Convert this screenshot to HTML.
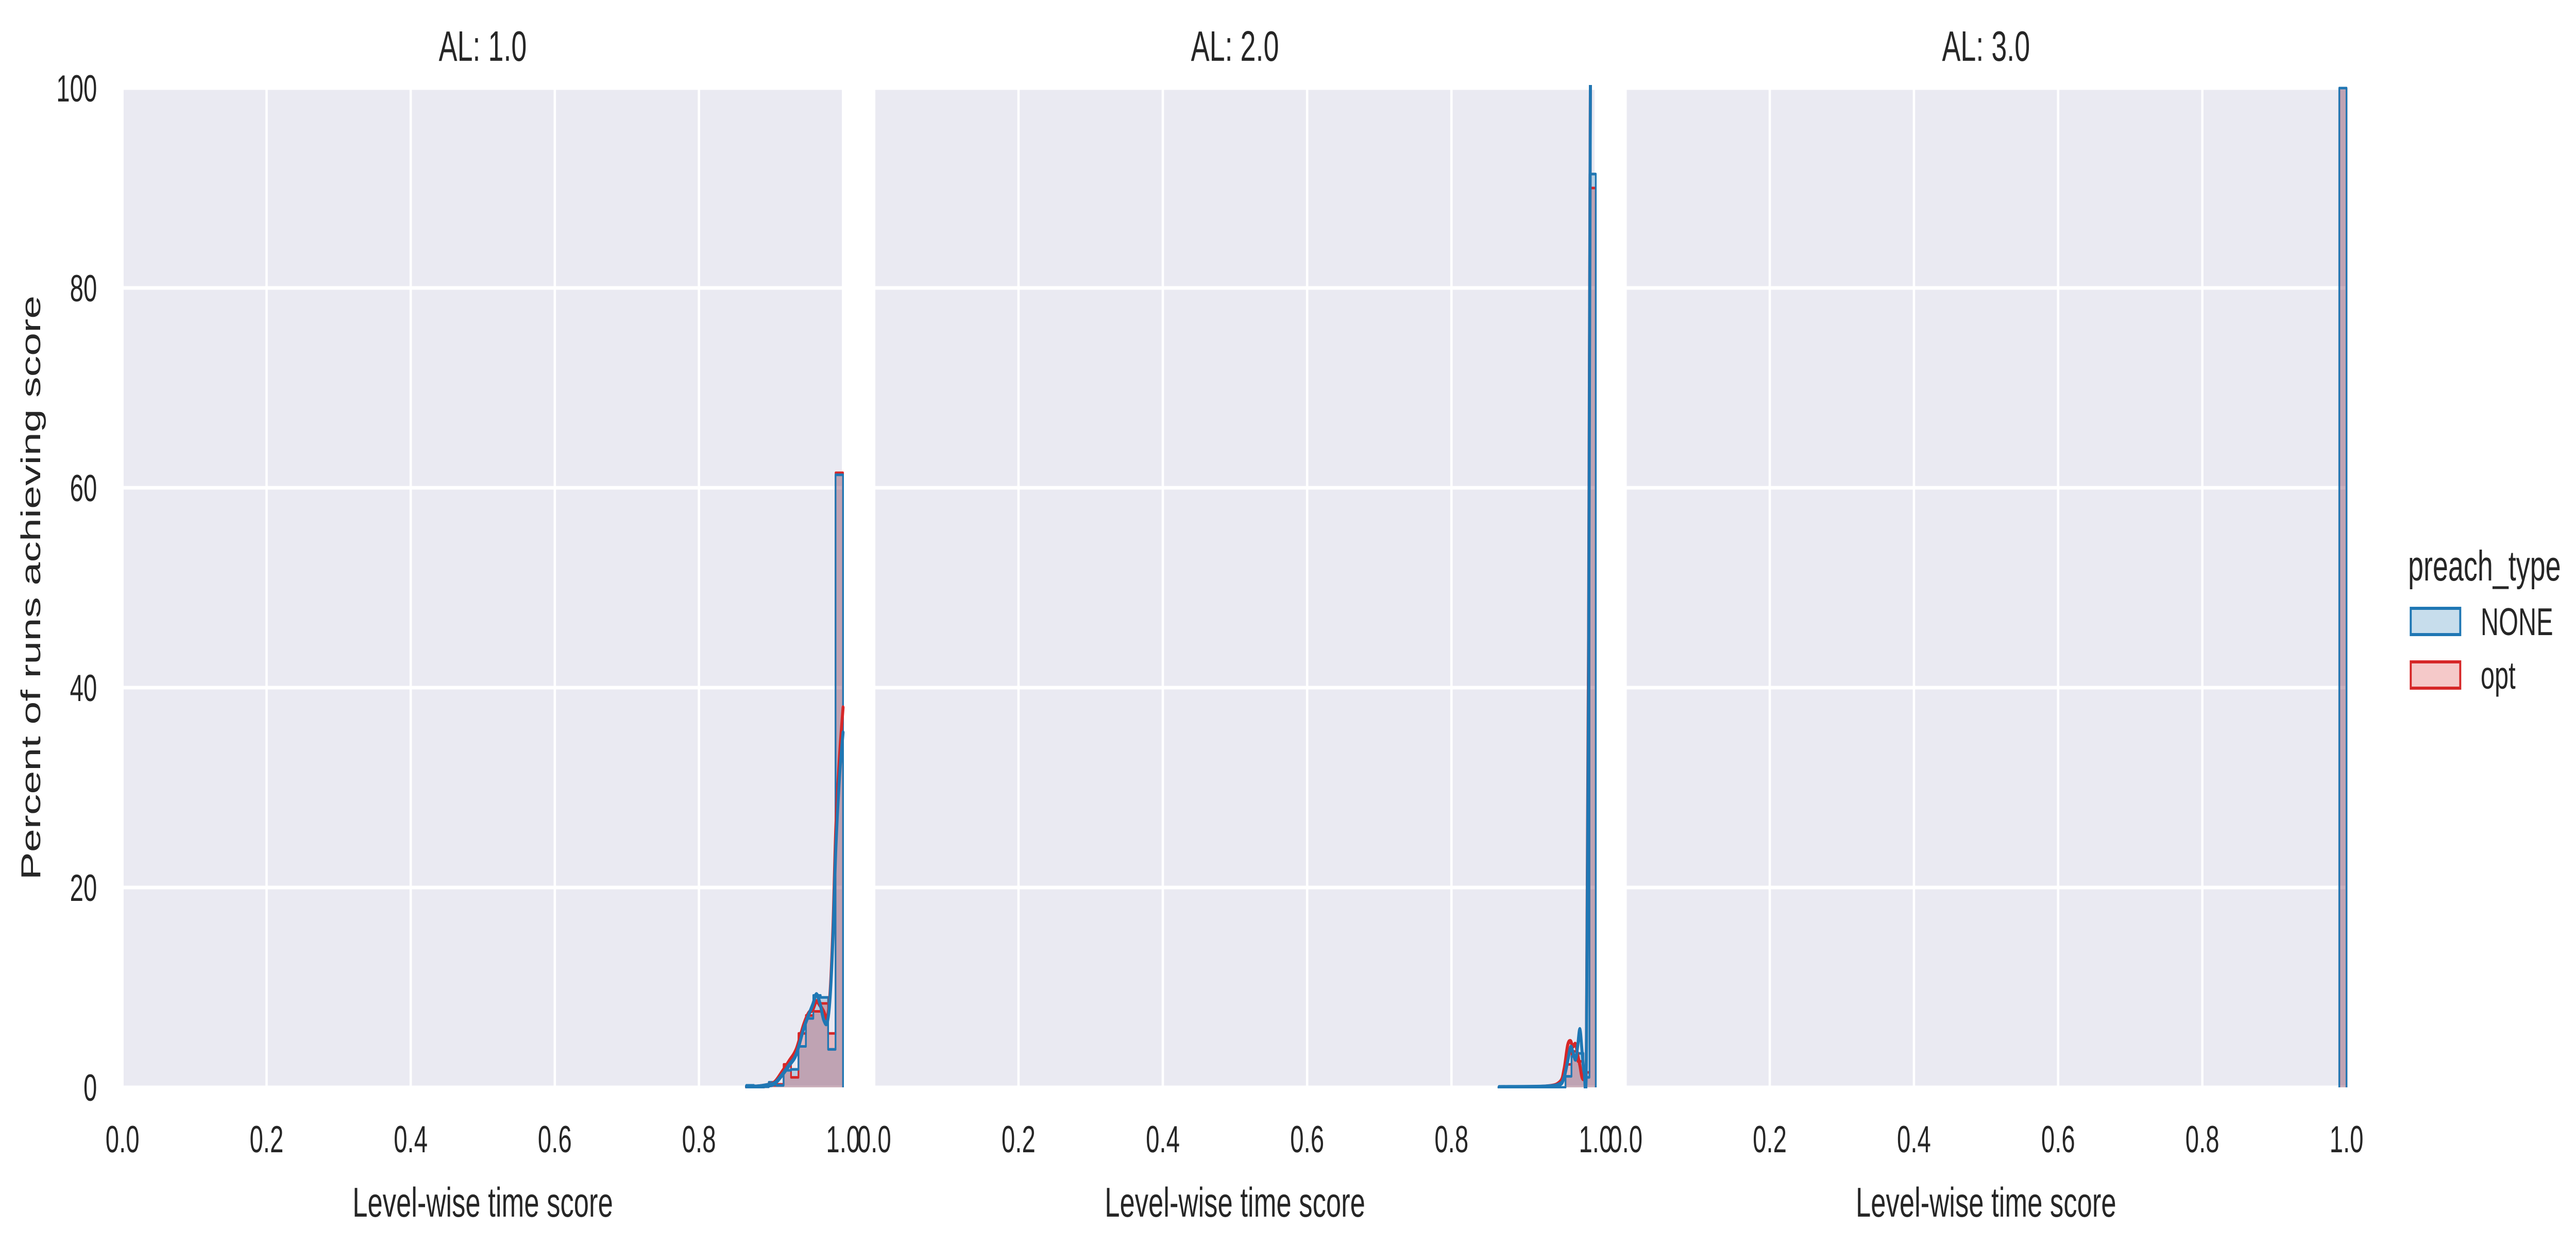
<!DOCTYPE html>
<html><head><meta charset="utf-8"><style>
html,body{margin:0;padding:0;background:#fff;width:100%;height:100%;overflow:hidden;}
svg{display:block;font-family:"Liberation Sans",Arial,sans-serif;width:100vw;height:100vh;}
</style></head><body>
<svg id="chart" viewBox="0 0 7700 2419" preserveAspectRatio="none" xmlns="http://www.w3.org/2000/svg"></svg>
<script>
// ---- data ----
const panelTitles = ["AL: 1.0", "AL: 2.0", "AL: 3.0"];
const xTicks = [0, 0.2, 0.4, 0.6, 0.8, 1.0];
const xTickLabels = ["0.0", "0.2", "0.4", "0.6", "0.8", "1.0"];
const yTicks = [0, 20, 40, 60, 80, 100];
const seriesNames = ["NONE", "opt"];
// Panel 1 histogram
const p1Edges = [0.866,0.8763,0.8866,0.8969,0.9072,0.9175,0.9278,0.9381,0.9484,0.9587,0.969,0.9793,0.9896,1.0];
const p1None = [0.2,0.05,0.05,0.5,0.2,1.7,1.8,4.1,6.9,9.2,9.0,3.8,61.3];
const p1Opt  = [0.1,0.0,0.05,0.2,0.3,2.3,1.0,5.4,7.2,7.6,8.4,5.4,61.5];
const p1KdeX = [0.866,0.88,0.895,0.905,0.915,0.925,0.935,0.945,0.952,0.958,0.963,0.968,0.973,0.978,0.982,0.986,0.99,0.995,1.0];
const p1KdeNone = [0.1,0.05,0.2,0.4,1.2,2.2,3.3,5.8,7.2,8.3,9.3,8.4,6.8,6.5,9.0,15,24,31,35.5];
const p1KdeOpt  = [0.05,0.05,0.2,0.5,1.5,2.6,3.8,6.2,7.4,7.8,8.6,8.2,7.6,7.0,9.5,16,26,33,38];
// Panel 2 histogram
const p2Edges = [0.866,0.958,0.9663,0.9746,0.9829,0.9912,1.0];
const p2None = [0.0,1.1,3.1,3.4,1.0,91.4];
const p2Opt  = [0.0,2.3,3.6,2.6,1.5,90.0];
const p2KdeX = [0.866,0.93,0.95,0.956,0.961,0.965,0.968,0.972,0.975,0.978,0.981,0.984,0.987,0.99,0.993,0.997,1.0];
const p2KdeNone = [0.0,0.05,0.3,1.0,2.6,4.0,3.6,2.8,4.2,5.8,3.6,1.5,3.0,40,110,130,130];
const p2KdeOpt  = [0.0,0.05,0.5,1.8,4.2,4.6,4.1,4.3,3.2,2.2,1.0,1.2,4.0,45,110,130,130];
// Panel 3 histogram
const p3Edges = [0.990,1.0];
const p3None = [100];
const p3Opt = [100];

// ---- layout ----
const panelsX = [[366,2520],[2613,4770],[4859,7014]];
const yTop = 171, yBot = 2111;
const BLUE="#1f77b4", RED="#d62728";
const NS="http://www.w3.org/2000/svg";
const svg=document.getElementById('chart');
function mk(tag,attrs,parent){const e=document.createElementNS(NS,tag);for(const k in attrs)e.setAttribute(k,attrs[k]);(parent||svg).appendChild(e);return e;}
function yS(v){return yBot-(v/100)*(yBot-yTop);}

const panelData=[
 {edges:p1Edges,none:p1None,opt:p1Opt,kx:p1KdeX,kn:p1KdeNone,ko:p1KdeOpt},
 {edges:p2Edges,none:p2None,opt:p2Opt,kx:p2KdeX,kn:p2KdeNone,ko:p2KdeOpt},
 {edges:p3Edges,none:p3None,opt:p3Opt,kx:null}
];

function stepPath(edges,vals,xS){
  let d="M"+xS(edges[0])+","+yS(0);
  for(let i=0;i<vals.length;i++){d+=" L"+xS(edges[i])+","+yS(vals[i])+" L"+xS(edges[i+1])+","+yS(vals[i]);}
  d+=" L"+xS(edges[edges.length-1])+","+yS(0);
  return d;
}
function smoothPath(xs,ys,xS){
  const pts=xs.map((x,i)=>[xS(x),yS(ys[i])]);
  let d="M"+pts[0][0]+","+pts[0][1];
  for(let i=0;i<pts.length-1;i++){
    const p0=pts[Math.max(0,i-1)],p1=pts[i],p2=pts[i+1],p3=pts[Math.min(pts.length-1,i+2)];
    const c1=[p1[0]+(p2[0]-p0[0])/6,p1[1]+(p2[1]-p0[1])/6];
    const c2=[p2[0]-(p3[0]-p1[0])/6,p2[1]-(p3[1]-p1[1])/6];
    d+=" C"+c1[0]+","+c1[1]+" "+c2[0]+","+c2[1]+" "+p2[0]+","+p2[1];
  }
  return d;
}

const defs=mk('defs',{});
panelsX.forEach((px,pi)=>{
  const x0=px[0],x1=px[1];
  const xS=v=>x0+v*(x1-x0);
  const g=mk('g',{});
  
  
  const bg=mk('rect',{x:x0,y:yTop,width:x1-x0,height:yBot-yTop,fill:"#eaeaf2"},g);
  
  
  xTicks.forEach(t=>{const l=mk('line',{x1:xS(t),x2:xS(t),y1:yTop,y2:yBot,stroke:"#fff","stroke-width":7},g);
    });
  yTicks.forEach(t=>{const l=mk('line',{x1:x0,x2:x1,y1:yS(t),y2:yS(t),stroke:"#fff","stroke-width":7},g);
    });
  const cp=mk('clipPath',{id:'clip'+pi},defs);
  mk('rect',{x:x0-6,y:yTop-6,width:x1-x0+12,height:yBot-yTop+8},cp);
  const dg=mk('g',{'clip-path':'url(#clip'+pi+')'},g);
  const D=panelData[pi];
  const hn=mk('path',{d:stepPath(D.edges,D.none,xS),fill:BLUE,'fill-opacity':0.25,stroke:BLUE,'stroke-width':5,'stroke-linejoin':'round'},dg);
  
  const ho=mk('path',{d:stepPath(D.edges,D.opt,xS),fill:RED,'fill-opacity':0.25,stroke:RED,'stroke-width':5,'stroke-linejoin':'round'},dg);
  
  const hn2=mk('path',{d:stepPath(D.edges,D.none,xS),fill:'none',stroke:BLUE,'stroke-width':5,'stroke-linejoin':'round'},dg);
  
  if(D.kx){
    const ko=mk('path',{d:smoothPath(D.kx,D.ko,xS),fill:'none',stroke:RED,'stroke-width':9,'stroke-linecap':'round'},dg);
    
    const kn=mk('path',{d:smoothPath(D.kx,D.kn,xS),fill:'none',stroke:BLUE,'stroke-width':9,'stroke-linecap':'round'},dg);
    
  }
  const tt=mk('text',{x:(x0+x1)/2,y:118,'text-anchor':'middle','font-size':83,fill:'#262626'},g);
  tt.textContent=panelTitles[pi];
  
  xTicks.forEach((t,i)=>{const tx=mk('text',{x:xS(t),y:2237,'text-anchor':'middle','font-size':73,fill:'#262626'},g);
    tx.textContent=xTickLabels[i];
    });
  const xl=mk('text',{x:(x0+x1)/2,y:2362,'text-anchor':'middle','font-size':81,fill:'#262626'},g);
  xl.textContent="Level-wise time score";
  
});
yTicks.forEach(t=>{const ty=mk('text',{x:290,y:yS(t)+26,'text-anchor':'end','font-size':73,fill:'#262626'});
  ty.textContent=String(t);
  });
const yl=mk('text',{x:0,y:0,'text-anchor':'middle','font-size':81,fill:'#262626',transform:'translate(120,1141) rotate(-90)'});
yl.textContent="Percent of runs achieving score";

const lg=mk('g',{});

const lt=mk('text',{x:7198,y:1127,'font-size':83,fill:'#262626'},lg);
lt.textContent="preach_type";

const legCols=[BLUE,RED];
seriesNames.forEach((n,i)=>{
  const py=1181+i*104;
  const r=mk('rect',{x:7206,y:py,width:148,height:51,fill:legCols[i],'fill-opacity':0.25,stroke:legCols[i],'stroke-width':6},lg);
  
  const t=mk('text',{x:7415,y:py+52,'font-size':75,fill:'#262626'},lg);
  t.textContent=n;
  
});
</script>
</body></html>
